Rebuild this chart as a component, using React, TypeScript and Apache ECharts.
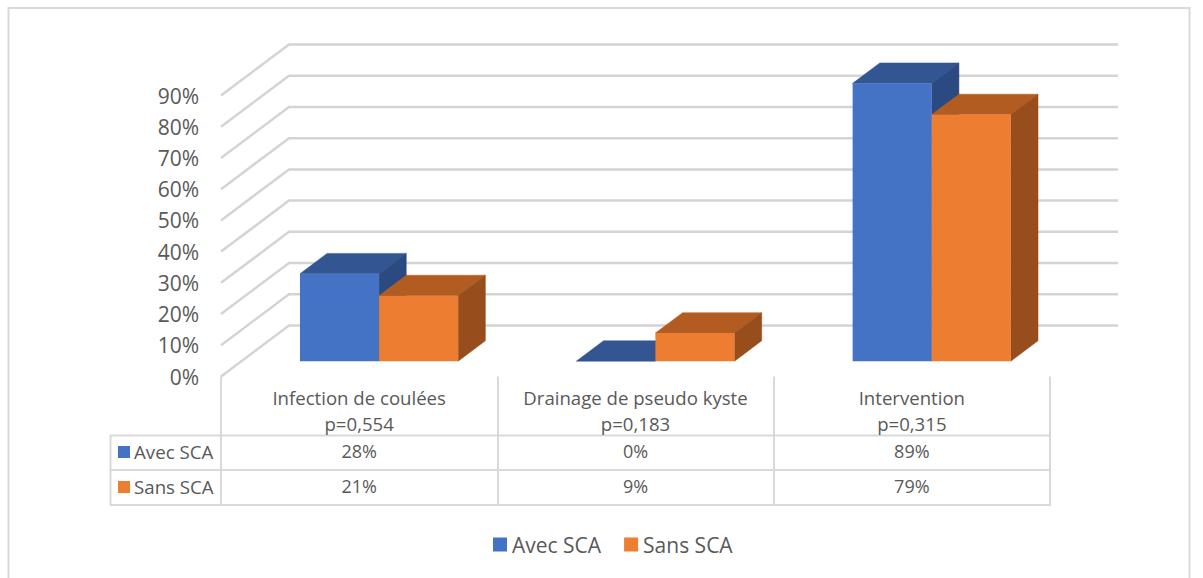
import React, { useEffect, useRef } from "react";
import * as echarts from "echarts";

const categories = ["Infection de coulées\np=0,554", "Drainage de pseudo kyste\np=0,183", "Intervention\np=0,315"];
const avecSca = [28, 0, 89];
const sansSca = [21, 9, 79];
const yTicks = [0, 10, 20, 30, 40, 50, 60, 70, 80, 90];
const seriesNames = ["Avec SCA", "Sans SCA"];
const FONT = "'Open Sans', sans-serif";
const TEXT = "#595959";
const LINE = "#d9d9d9";

const BLUE = { front: "#4472c4", top: "#335592", side: "#2b4a82" };
const ORANGE = { front: "#ed7d31", top: "#b35c22", side: "#974e1c" };

const DEPTH_X = 68;
const DEPTH_Y = -51;
const BAR_FRONT = 0.3;
const BAR_DEPTH = 0.4;
const BAR_W = 79 / 276;

function poly(points: number[][], fill: string) {
  return { type: "polygon", shape: { points }, style: { fill, stroke: fill, lineWidth: 0.5 } };
}

function barSeries(name: string, values: number[], colors: typeof BLUE, index: number) {
  return {
    name,
    type: "custom",
    coordinateSystem: "cartesian2d",
    itemStyle: { color: colors.front },
    z: 3,
    data: values.map((v, i) => [i, v]),
    encode: { x: 0, y: 1 },
    renderItem: (_p: any, api: any) => {
      const cat = api.value(0);
      const val = api.value(1);
      const band = api.size([1, 0])[0];
      const w = band * BAR_W;
      const [cx, y0] = api.coord([cat, 0]);
      const yv = api.coord([cat, val])[1];
      const ox = DEPTH_X * BAR_FRONT - 0.5;
      const oy = DEPTH_Y * BAR_FRONT;
      const dx = DEPTH_X * BAR_DEPTH;
      const dy = DEPTH_Y * BAR_DEPTH;
      const x0 = cx + ox + (index - 1) * w;
      const x1 = x0 + w;
      const yb = y0 + oy;
      const yt = yv + oy;
      const children: any[] = [];
      children.push(poly([[x0, yt], [x1, yt], [x1 + dx, yt + dy], [x0 + dx, yt + dy]], colors.top));
      if (val > 0) {
        children.push(poly([[x1, yb], [x1, yt], [x1 + dx, yt + dy], [x1 + dx, yb + dy]], colors.side));
        children.push({ type: "rect", shape: { x: x0, y: yt, width: w, height: yb - yt }, style: { fill: colors.front } });
      }
      return { type: "group", children };
    },
  };
}

export default function App() {
  const ref = useRef<HTMLDivElement>(null);
  useEffect(() => {
    const chart = echarts.init(ref.current!, undefined, { renderer: "svg" });
    const tableRows = [
      { name: seriesNames[0], values: avecSca, y: 451, color: BLUE.front },
      { name: seriesNames[1], values: sansSca, y: 486, color: ORANGE.front },
    ];
    const hLine = (x1: number, y: number, x2: number) => ({
      type: "line",
      shape: { x1, y1: y, x2, y2: y },
      style: { stroke: LINE, lineWidth: 2 },
    });
    chart.setOption({
      animation: false,
      backgroundColor: "#fff",
      grid: { left: 221, top: 95.5, width: 829, height: 281 },
      xAxis: {
        type: "category",
        data: categories,
        axisLine: { show: false },
        axisTick: { show: true, length: 129, lineStyle: { color: LINE, width: 2 } },
        axisLabel: { color: TEXT, fontFamily: FONT, fontSize: 18.6, lineHeight: 26, margin: 8, interval: 0 },
      },
      yAxis: {
        type: "value",
        min: 0,
        max: 90,
        interval: 10,
        axisLine: { show: false },
        axisTick: { show: false },
        splitLine: { show: false },
        axisLabel: { color: TEXT, fontFamily: FONT, fontSize: 21, margin: 22, formatter: "{value}%" },
      },
      legend: {
        data: seriesNames,
        left: 488,
        top: 529,
        itemWidth: 14,
        itemHeight: 14,
        itemGap: 23,
        icon: "rect",
        textStyle: { color: TEXT, fontFamily: FONT, fontSize: 21 },
      },
      graphic: [
        {
          type: "group",
          children: [
            { type: "rect", shape: { x: 8.5, y: 8, width: 1181, height: 600 }, style: { fill: "none", stroke: LINE, lineWidth: 2 } },
            hLine(110, 435.5, 1051),
            hLine(110, 470, 1051),
            hLine(110, 505, 1051),
            { type: "line", shape: { x1: 110.5, y1: 435, x2: 110.5, y2: 505 }, style: { stroke: LINE, lineWidth: 2 } },
            ...tableRows.flatMap((r) => [
              { type: "rect", shape: { x: 118, y: r.y - 5, width: 12, height: 12 }, style: { fill: r.color } },
              { type: "text", x: 134, y: r.y, style: { text: r.name, fill: TEXT, font: `18.7px ${FONT}`, textAlign: "left", textVerticalAlign: "middle" } },
            ]),
          ],
        },
      ],
      series: [
        {
          name: "grille",
          type: "custom",
          coordinateSystem: "cartesian2d",
          z: 1,
          data: yTicks.map((t) => [0, t]),
          encode: { y: 1 },
          renderItem: (p: any, api: any) => {
            const y = api.coord([0, api.value(1)])[1];
            const left = p.coordSys.x;
            const right = left + p.coordSys.width;
            return {
              type: "polyline",
              shape: { points: [[left, y], [left + DEPTH_X, y + DEPTH_Y], [right + DEPTH_X, y + DEPTH_Y]] },
              style: { stroke: "#d4d4d4", lineWidth: 2.5, fill: "none" },
            };
          },
        },
        barSeries(seriesNames[0], avecSca, BLUE, 0),
        barSeries(seriesNames[1], sansSca, ORANGE, 1),
        {
          name: "tableau",
          type: "custom",
          coordinateSystem: "cartesian2d",
          z: 4,
          data: categories.map((_, i) => [i, 0]),
          encode: { x: 0, y: 1 },
          renderItem: (_p: any, api: any) => {
            const i = api.value(0);
            const cx = api.coord([i, 0])[0];
            return {
              type: "group",
              children: tableRows.map((r) => ({
                type: "text",
                x: cx,
                y: r.y,
                style: { text: `${r.values[i]}%`, fill: TEXT, font: `18px ${FONT}`, textAlign: "center", textVerticalAlign: "middle" },
              })),
            };
          },
        },
      ],
    });
    return () => chart.dispose();
  }, []);
  return <div ref={ref} style={{ position: "fixed", left: 0, top: 0, width: 1203, height: 578 }} />;
}
